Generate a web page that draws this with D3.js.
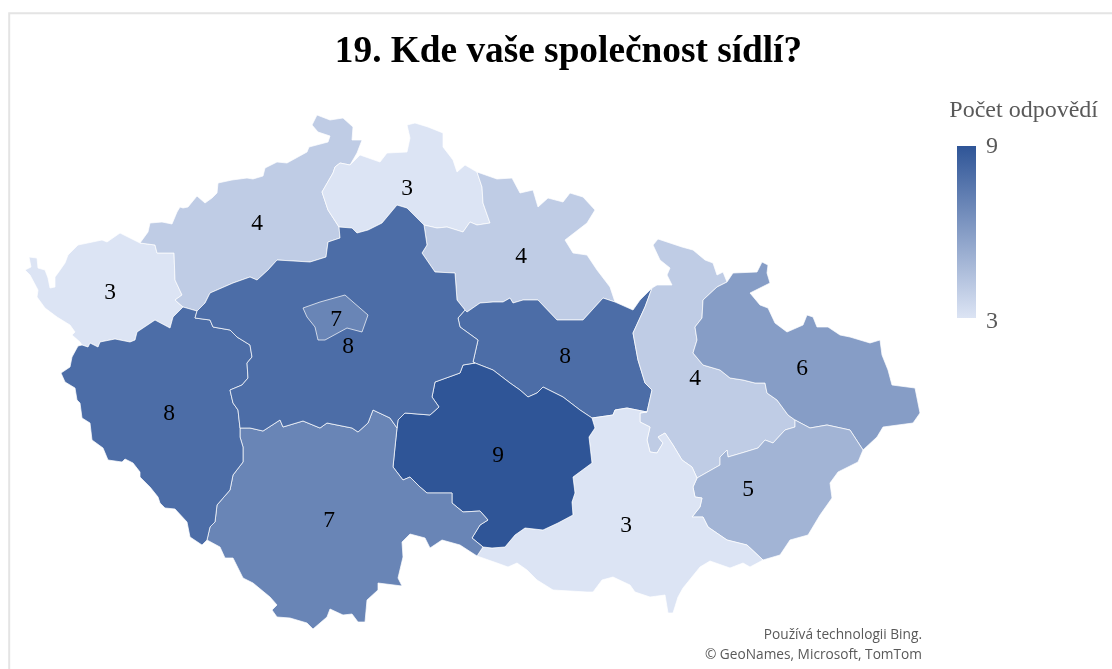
<!DOCTYPE html>
<html><head><meta charset="utf-8">
<script src="https://cdn.jsdelivr.net/npm/d3@7"></script>
<style>html,body{margin:0;padding:0;background:#fff;overflow:hidden}svg{display:block;filter:blur(0.4px)}</style>
</head><body><div id="chart"></div>
<script>
const titleText = "19. Kde vaše společnost sídlí?";
const legendTitle = "Počet odpovědí";
const creditLines = ["Používá technologii Bing.", "© GeoNames, Microsoft, TomTom"];
const regionNames = ["Karlovarský","Ústecký","Liberecký","Královéhradecký","Pardubický","Olomoucký","Moravskoslezský","Zlínský","Jihomoravský","Vysočina","Jihočeský","Plzeňský","Středočeský","Praha"];
const regionValues = [3,4,3,4,8,4,6,5,3,9,7,8,8,7];
const legendDomain = [3,9];

// Geometry: shared boundary arcs, in map units
const arcs = {
 kvOut:[[140,243],[138,242],[128,237],[120,233],[107,242],[102,240],[78,245],[68,255],[65,263],[58,273],[55,277],[55,287],[50,288],[48,278],[45,270],[38,268],[37,258],[29,257],[31,267],[25,270],[30,275],[38,290],[37,297],[45,308],[57,317],[70,325],[75,332],[72,335],[80,342],[82,345]],
 kvUs:[[140,243],[155,245],[157,253],[174,253],[175,280],[182,295],[175,300],[183,307]],
 kvPl:[[183,307],[173,317],[170,328],[155,320],[137,332],[135,340],[130,342],[115,339],[100,342],[98,347],[90,343],[88,347],[82,345]],
 usOut:[[140,243],[148,232],[150,223],[162,222],[172,224],[177,212],[180,207],[183,208],[188,207],[197,196],[205,203],[212,198],[217,193],[218,183],[232,180],[247,178],[253,179],[263,176],[265,168],[277,162],[287,163],[307,152],[309,147],[328,142],[330,136],[318,132],[312,125],[317,115],[330,120],[343,118],[353,127],[352,140],[362,140],[357,153],[350,165]],
 usLi:[[350,165],[340,163],[335,167],[333,173],[322,192],[328,210],[339,227]],
 usCe:[[339,227],[340,238],[328,242],[326,257],[310,262],[277,260],[268,270],[257,280],[250,277],[233,283],[210,293],[205,303],[197,311]],
 usPl:[[197,311],[183,307]],
 plCe:[[197,311],[195,318],[210,320],[213,327],[230,330],[237,337],[250,345],[252,357],[247,363],[248,378],[242,385],[230,390],[233,403],[238,410],[240,428]],
 plSb:[[240,428],[240,437],[243,447],[243,462],[233,475],[230,490],[217,505],[215,522],[210,527],[207,540]],
 plOut:[[207,540],[202,545],[190,537],[187,522],[175,509],[165,508],[160,503],[158,497],[150,487],[140,477],[140,472],[133,463],[125,459],[122,462],[108,460],[103,448],[92,440],[90,423],[82,418],[80,403],[77,400],[75,388],[65,382],[61,373],[70,367],[72,357],[78,346],[82,345]],
 sbOut:[[207,540],[220,547],[225,558],[233,558],[243,578],[253,583],[270,597],[277,605],[272,610],[277,617],[290,618],[307,623],[313,629],[327,617],[330,609],[343,615],[352,614],[358,622],[365,622],[367,600],[378,590],[378,583],[402,586],[398,578],[403,557],[402,542],[410,534],[425,538],[430,548],[442,540],[460,545],[477,556]],
 sbCe:[[240,428],[250,428],[263,431],[280,420],[283,427],[303,421],[320,428],[327,423],[352,428],[358,432],[368,423],[373,410],[390,418],[397,428]],
 sbVy:[[397,428],[395,447],[393,467],[403,480],[410,477],[420,487],[427,493],[452,493],[452,503],[463,512],[480,511],[488,520],[480,525],[472,538],[483,547]],
 sbJm:[[483,547],[477,556]],
 vyJm:[[483,547],[492,548],[505,547],[515,535],[525,528],[543,530],[558,523],[573,515],[572,502],[575,493],[573,477],[592,463],[589,437],[595,428],[592,418]],
 vyPa:[[592,418],[580,410],[563,397],[543,387],[537,393],[528,397],[520,390],[510,383],[493,370],[475,363]],
 vyCe:[[475,363],[463,365],[460,373],[435,382],[432,397],[439,407],[430,415],[405,413],[398,420],[397,428]],
 cePa:[[475,363],[473,362],[478,340],[460,327],[458,318],[465,310]],
 ceKh:[[424,225],[427,245],[422,253],[435,272],[455,273],[457,300],[465,310]],
 ceLi:[[339,227],[352,228],[357,233],[368,230],[382,223],[397,205],[407,208],[424,225]],
 liOut:[[350,165],[360,155],[380,162],[387,153],[407,152],[410,138],[407,125],[415,123],[428,127],[443,133],[443,147],[453,160],[457,172],[465,165],[477,172]],
 liKh:[[477,172],[482,187],[483,203],[490,223],[477,225],[470,222],[463,232],[447,227],[437,228],[424,225]],
 khOut:[[477,172],[497,179],[512,178],[520,193],[533,190],[538,207],[548,198],[563,202],[570,193],[583,197],[595,210],[587,223],[565,240],[573,253],[587,255],[597,270],[610,287],[615,302]],
 khPa:[[615,302],[603,298],[583,320],[557,320],[538,300],[523,300],[513,303],[510,298],[503,302],[493,302],[480,303],[467,312],[465,310]],
 paOut:[[615,302],[633,310],[640,300],[652,288]],
 paOl:[[652,288],[645,307],[633,333],[638,360],[645,383],[652,390],[647,412]],
 paJm:[[647,412],[627,408],[615,410],[613,415],[592,418]],
 olOut:[[652,288],[657,285],[672,285],[667,275],[670,268],[660,260],[653,245],[658,239],[682,247],[693,250],[705,260],[713,263],[717,275],[723,272],[727,282]],
 olMs:[[727,282],[717,287],[703,300],[702,318],[695,327],[697,340],[693,353],[703,365],[720,370],[730,378],[743,380],[755,383],[765,383],[767,393],[777,400],[788,415],[795,420]],
 olZl:[[795,420],[795,427],[785,430],[773,443],[765,440],[758,448],[745,452],[728,457],[727,450],[720,457],[720,465],[697,478]],
 olJm:[[647,412],[640,413],[640,422],[650,427],[647,440],[650,452],[657,453],[663,443],[658,437],[665,433],[673,445],[682,460],[692,467],[697,478]],
 jmZl:[[697,478],[693,487],[695,497],[702,498],[700,507],[692,517],[703,517],[708,527],[727,540],[747,545],[763,560]],
 jmOut:[[477,556],[497,563],[508,567],[517,563],[527,570],[537,580],[553,590],[587,592],[593,592],[602,580],[613,577],[630,585],[635,592],[650,597],[665,595],[668,613],[673,613],[678,597],[683,588],[700,567],[710,561],[730,568],[743,563],[750,567],[763,560]],
 zlOut:[[763,560],[780,555],[790,540],[808,535],[820,515],[832,498],[830,483],[838,472],[858,462],[863,450]],
 zlMs:[[863,450],[850,430],[827,425],[810,428],[795,420]],
 msOut:[[727,282],[733,273],[757,272],[762,262],[768,265],[767,273],[770,283],[750,293],[760,305],[768,308],[775,323],[787,332],[803,325],[807,315],[813,317],[817,327],[828,327],[840,335],[850,337],[870,343],[880,340],[882,355],[888,370],[892,385],[915,388],[920,413],[913,423],[883,427],[877,437],[863,450]],
 praha:[[303,308],[320,302],[345,295],[353,302],[368,315],[362,332],[347,328],[325,340],[318,340],[315,327],[307,317],[303,308]]
};
// each region's ring: arc names, "-" prefix = reversed
const regionRings = {
 "Karlovarský":["kvUs","kvPl","-kvOut"],
 "Ústecký":["usOut","usLi","usCe","usPl","-kvUs"],
 "Liberecký":["liOut","liKh","-ceLi","-usLi"],
 "Královéhradecký":["khOut","khPa","-ceKh","-liKh"],
 "Pardubický":["paOut","paOl","paJm","vyPa","cePa","-khPa"],
 "Olomoucký":["olOut","olMs","olZl","-olJm","-paOl"],
 "Moravskoslezský":["msOut","zlMs","-olMs"],
 "Zlínský":["zlOut","zlMs","olZl","jmZl"],
 "Jihomoravský":["jmOut","-jmZl","-olJm","paJm","-vyJm","sbJm"],
 "Vysočina":["sbVy","vyJm","vyPa","vyCe"],
 "Jihočeský":["sbOut","-sbJm","-sbVy","-sbCe","plSb"],
 "Plzeňský":["plCe","plSb","plOut","-kvPl","-usPl"],
 "Středočeský":["ceLi","ceKh","-cePa","vyCe","-sbCe","-plCe","-usCe"],
 "Praha":["praha"]
};
const labelAnchors = {
 "Karlovarský":[110,291],"Ústecký":[257,222],"Liberecký":[407,187],"Královéhradecký":[521,255],
 "Pardubický":[565,355],"Olomoucký":[695,377],"Moravskoslezský":[802,367],"Zlínský":[748,488],
 "Jihomoravský":[626,524],"Vysočina":[498,454],"Jihočeský":[329,519],"Plzeňský":[169,412],
 "Středočeský":[348,345],"Praha":[336,318]
};

function buildRing(names){
  const pts=[];
  names.forEach(n=>{
    const rev=n[0]==="-"; let a=arcs[rev?n.slice(1):n].slice();
    if(rev)a.reverse();
    if(pts.length){
      const l=pts[pts.length-1];
      const d=p=>Math.hypot(p[0]-l[0],p[1]-l[1]);
      if(d(a[a.length-1])<d(a[0]))a.reverse();
    }
    pts.push(...a);
  });
  pts.push(pts[0]);
  return pts;
}
const features = regionNames.map((name,i)=>({type:"Feature",properties:{name,value:regionValues[i]},
  geometry:{type:"Polygon",coordinates:[buildRing(regionRings[name])]}}));

const W=1112,H=669;
const svg=d3.select("#chart").append("svg").attr("width",W).attr("height",H);
const color=d3.scaleLinear().domain(legendDomain).range(["#dce4f4","#2f5597"]);
const path=d3.geoPath(d3.geoIdentity());

// frame
svg.append("path").attr("d",`M9.2,${H}V13.3H${W}`).attr("fill","none").attr("stroke","#e4e4e4").attr("stroke-width",2);

svg.append("text").attr("x",568.5).attr("y",62).attr("text-anchor","middle")
  .attr("font-family","'Liberation Serif',serif").attr("font-weight","bold").attr("font-size",37.3).attr("fill","#000").text(titleText);

const order=features.slice().sort((a,b)=>(a.properties.name==="Praha")-(b.properties.name==="Praha"));
svg.append("g").selectAll("path").data(order).join("path")
  .attr("d",path).attr("fill",d=>color(d.properties.value))
  .attr("stroke","#fff").attr("stroke-opacity",.7).attr("stroke-width",1).attr("stroke-linejoin","round");

svg.append("g").selectAll("text").data(features).join("text")
  .attr("x",d=>labelAnchors[d.properties.name][0]).attr("y",d=>labelAnchors[d.properties.name][1]+8)
  .attr("text-anchor","middle").attr("font-family","'Liberation Serif',serif").attr("font-size",23.5).attr("fill","#000")
  .text(d=>d.properties.value);

// legend
const legendY=d3.scaleLinear().domain(legendDomain).range([318,146]);
const grad=svg.append("defs").append("linearGradient").attr("id","lg").attr("x1",0).attr("x2",0).attr("y1",1).attr("y2",0);
legendDomain.forEach((v,i)=>grad.append("stop").attr("offset",i).attr("stop-color",color(v)));
svg.append("rect").attr("x",957).attr("y",legendY(9)).attr("width",19).attr("height",legendY(3)-legendY(9)).attr("fill","url(#lg)");
svg.append("text").attr("x",1098).attr("y",117).attr("text-anchor","end").attr("font-family","'Liberation Serif',serif").attr("font-size",24).attr("fill","#595959").text(legendTitle);
svg.append("g").selectAll("text").data(legendDomain).join("text")
  .attr("x",986).attr("y",d=>legendY(d)+(d===9?7:10)).attr("font-family","'Liberation Serif',serif").attr("font-size",24).attr("fill","#595959").text(d=>d);

svg.append("g").selectAll("text").data(creditLines).join("text")
  .attr("x",922).attr("y",(d,i)=>639+i*19.5).attr("text-anchor","end").attr("font-family","'Open Sans',sans-serif").attr("font-size",13.7).attr("fill","#595959").text(d=>d);
</script></body></html>
